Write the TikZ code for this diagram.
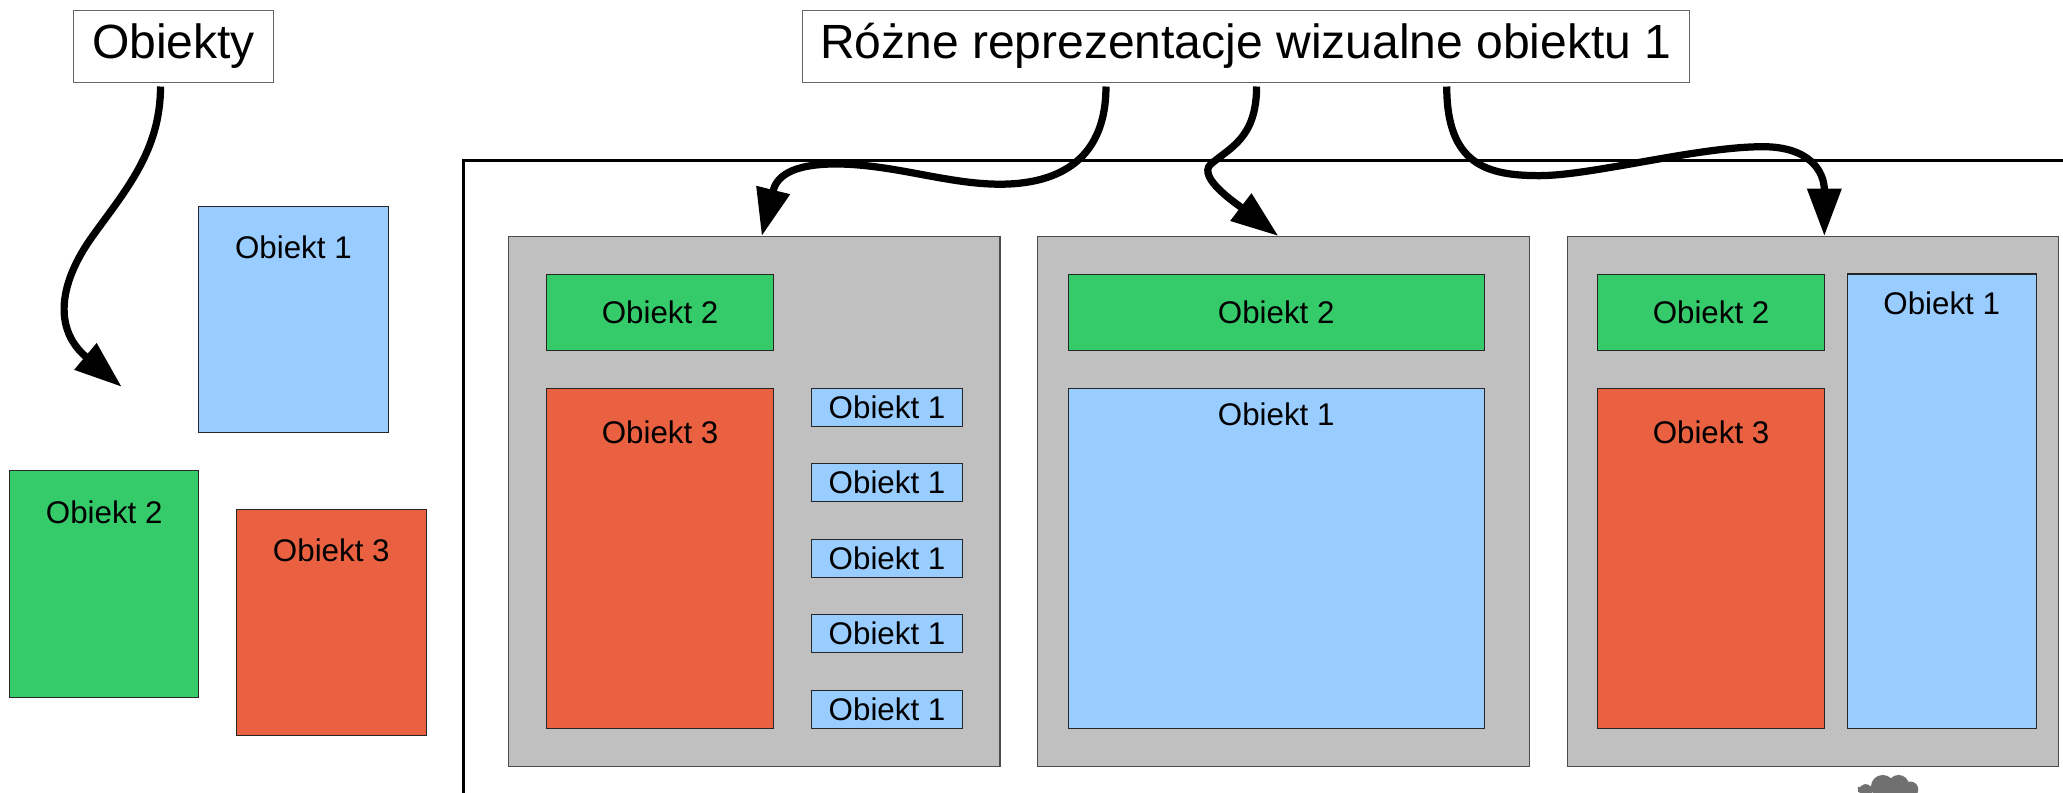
\documentclass[tikz,border=0pt]{standalone}
\usepackage{fontspec}
\setmainfont{Liberation Sans}
\usetikzlibrary{arrows.meta}

\definecolor{niebieski}{HTML}{99CCFF}
\definecolor{zielony}{HTML}{35CB6A}
\definecolor{czerwony}{HTML}{E96140}
\definecolor{szary}{HTML}{C0C0C0}
\definecolor{chmurka}{HTML}{707070}

\tikzset{
    tytul/.style={draw=black!60, fill=white, line width=0.8pt, inner sep=0pt,
        font=\fontsize{36.5}{42}\selectfont},
    obj/.style={draw=black!85, line width=0.8pt, inner sep=0pt,
        font=\fontsize{23.8}{28}\selectfont},
    opis/.style={anchor=center, inner sep=0pt, font=\fontsize{23.8}{28}\selectfont},
    widok/.style={draw=black!70, fill=szary, line width=0.8pt, inner sep=0pt},
    strz/.style={line width=5.5pt, -{Triangle[length=36pt,width=25pt]}},
    ramka/.style={line width=2.3pt}
}

\begin{document}
\begin{tikzpicture}[x=1pt,y=-1pt]
        \path[use as bounding box] (0,0) rectangle (1568,602);
        \clip (0,0) rectangle (1568,602);

        \node[tytul, minimum width=151.5pt, minimum height=54.7pt] (tytul1) at (131.8,35) {Obiekty};
        \node[tytul, minimum width=673.7pt, minimum height=54.7pt] (tytul2) at (946.9,35) {Różne reprezentacje wizualne obiektu 1};

        % obiekty
        \node[obj, fill=niebieski, minimum width=144pt, minimum height=172pt,
            label={[opis,yshift=-31pt]north:Obiekt 1}] (l1) at (223,243) {};
        \node[obj, fill=zielony, minimum width=143.7pt, minimum height=172.5pt,
            label={[opis,yshift=-32pt]north:Obiekt 2}] (l2) at (79.2,444.2) {};
        \node[obj, fill=czerwony, minimum width=144.5pt, minimum height=172pt,
            label={[opis,yshift=-32pt]north:Obiekt 3}] (l3) at (251.8,473) {};

        \draw[ramka] (352,640) -- (352,122) -- (1600,122);

        % widok A
        \node[widok, minimum width=373.5pt, minimum height=402.5pt] (szaryA) at (573.3,381) {};
        \node[obj, fill=zielony, minimum width=172.7pt, minimum height=57.4pt] (a2) at (501.7,237.5) {Obiekt 2};
        \node[obj, fill=czerwony, minimum width=172.7pt, minimum height=258.5pt,
            label={[opis,yshift=-34pt]north:Obiekt 3}] (a3) at (501.7,424.3) {};
        \foreach \i in {0,...,4}
            \node[obj, fill=niebieski, minimum width=115pt, minimum height=29pt] (a1-\i) at (674.2,309.5+57.4*\i) {Obiekt 1};

        % widok B
        \node[widok, minimum width=373.8pt, minimum height=402.5pt] (szaryB) at (975.7,381) {};
        \node[obj, fill=zielony, minimum width=316.2pt, minimum height=57.4pt] (b2) at (970,237.5) {Obiekt 2};
        \node[obj, fill=niebieski, minimum width=316.2pt, minimum height=258.5pt,
            label={[opis,yshift=-20.6pt]north:Obiekt 1}] (b1) at (970,424.3) {};

        % widok C
        \node[widok, minimum width=373.2pt, minimum height=402.5pt] (szaryC) at (1377.8,381) {};
        \node[obj, fill=zielony, minimum width=172.3pt, minimum height=57.4pt] (c2) at (1300.5,237.5) {Obiekt 2};
        \node[obj, fill=czerwony, minimum width=172.3pt, minimum height=258.5pt,
            label={[opis,yshift=-34pt]north:Obiekt 3}] (c3) at (1300.5,424.3) {};
        \node[obj, fill=niebieski, minimum width=143.9pt, minimum height=345.3pt,
            label={[opis,yshift=-23pt]north:Obiekt 1}] (c1) at (1475.8,380.9) {};

        % strzalki
        \coordinate (cel) at (92.5,294);
        \draw[strz] ([shift={(-9.8,3)}]tytul1.south) .. controls (122,115) and (95,145) .. (70,180)
            .. controls (45,215) and (40,250) .. (cel);
        \draw[strz] ([shift={(-106.3,3)}]tytul2.south) .. controls (840.6,125) and (800,140) .. (760,140)
            .. controls (720,140) and (680,125) .. (636,124.6)
            .. controls (600,124.6) and (590,135) .. ([xshift=5.7pt]szaryA.north);
        \draw[strz] ([shift={(8.2,3)}]tytul2.south) .. controls (955,105) and (935,112) .. (920,125)
            .. controls (910,135) and (940,155) .. ([xshift=-4.1pt]szaryB.north);
        \draw[strz] ([shift={(152.7,3)}]tytul2.south) .. controls (1099.6,125) and (1130,133.5) .. (1170,133.5)
            .. controls (1210,133.5) and (1290,111.5) .. (1340,111.5)
            .. controls (1375,111.5) and (1386.6,130) .. ([xshift=8.8pt]szaryC.north);

        % chmurka
        \fill[chmurka] (1431,598) circle (9pt) (1443,597) circle (8pt) (1452,600) circle (6pt)
            (1418,601) circle (5pt) (1412,598) rectangle (1457,602);
    \end{tikzpicture}
\end{document}
